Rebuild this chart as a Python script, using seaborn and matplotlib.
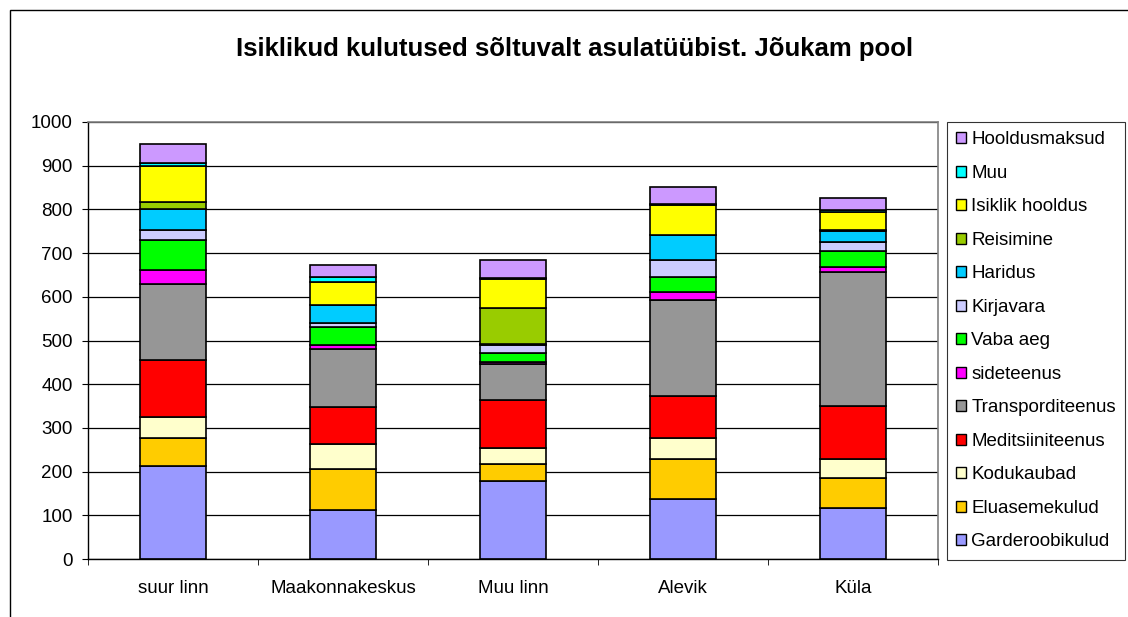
import numpy as np
import pandas as pd
import matplotlib
matplotlib.use("Agg")
import matplotlib.pyplot as plt
import seaborn as sns
from matplotlib.patches import Patch, Rectangle

# Andmed
asulad = ["suur linn", "Maakonnakeskus", "Muu linn", "Alevik", "Küla"]
garderoobikulud = [213, 113, 178, 137, 117]
eluasemekulud = [65, 93, 40, 92, 68]
kodukaubad = [48, 57, 36, 49, 44]
meditsiiniteenus = [130, 84, 109, 96, 122]
transporditeenus = [173, 133, 84, 219, 306]
sideteenus = [32, 10, 3, 19, 11]
vaba_aeg = [68, 42, 21, 33, 36]
kirjavara = [24, 8, 19, 39, 22]
haridus = [49, 41, 2, 58, 24]
reisimine = [16, 0, 83, 0, 3]
isiklik_hooldus = [82, 52, 66, 67, 41]
muu = [7, 12, 3, 4, 5]
hooldusmaksud = [42, 28, 41, 38, 27]

seeriad = [
    ("Garderoobikulud", garderoobikulud, "#9999FF"),
    ("Eluasemekulud", eluasemekulud, "#FFCC00"),
    ("Kodukaubad", kodukaubad, "#FFFFCC"),
    ("Meditsiiniteenus", meditsiiniteenus, "#FF0000"),
    ("Transporditeenus", transporditeenus, "#969696"),
    ("sideteenus", sideteenus, "#FF00FF"),
    ("Vaba aeg", vaba_aeg, "#00FF00"),
    ("Kirjavara", kirjavara, "#CCCCFF"),
    ("Haridus", haridus, "#00CCFF"),
    ("Reisimine", reisimine, "#99CC00"),
    ("Isiklik hooldus", isiklik_hooldus, "#FFFF00"),
    ("Muu", muu, "#00FFFF"),
    ("Hooldusmaksud", hooldusmaksud, "#CC99FF"),
]

sns.set_style("white")
plt.rcParams["font.family"] = ["Liberation Sans", "DejaVu Sans"]
plt.rcParams["text.color"] = "black"
plt.rcParams["xtick.color"] = "black"
plt.rcParams["ytick.color"] = "black"

fs = 13.5

fig = plt.figure(figsize=(11.28, 6.17), dpi=100)
ax = fig.add_axes([88 / 1128, 1 - 559 / 617, (938 - 88) / 1128, (559 - 122) / 617])

# ruudustik
ax.set_ylim(0, 1000)
ax.set_yticks(np.arange(0, 1001, 100))
ax.yaxis.grid(True, color="black", linewidth=0.9)
ax.set_axisbelow(True)

alus = np.zeros(len(asulad))
for nimi, vaartused, varv in seeriad:
    sns.barplot(x=asulad, y=vaartused, bottom=alus, color=varv, edgecolor="black",
                linewidth=1.2, width=0.39, saturation=1, ax=ax)
    alus = alus + np.array(vaartused)

ax.set_xlim(-0.5, len(asulad) - 0.5)
ax.set_xticks(np.arange(-0.5, len(asulad), 1), minor=True)
ax.tick_params(axis="x", which="major", length=0, pad=15, labelsize=fs)
ax.tick_params(axis="x", which="minor", length=4, color="black", direction="out", bottom=True)
ax.tick_params(axis="y", length=4, color="black", direction="out", left=True, pad=7, labelsize=fs)
for s in ["top", "right"]:
    ax.spines[s].set_color("#808080")
    ax.spines[s].set_linewidth(1.2)
for s in ["left", "bottom"]:
    ax.spines[s].set_color("black")
    ax.spines[s].set_linewidth(1)
ax.set_xlabel("")
ax.set_ylabel("")

# legend
kaed = [Patch(facecolor=v, edgecolor="black", label=n) for n, _, v in seeriad][::-1]
leg = fig.legend(handles=kaed, loc="upper left", bbox_to_anchor=(947 / 1128, 1 - 122 / 617),
                 frameon=True, fancybox=False, edgecolor="black", fontsize=fs,
                 handlelength=0.5, handleheight=0.5, handletextpad=0.3,
                 labelspacing=0.88, borderpad=0.5, borderaxespad=0)
leg.get_frame().set_linewidth(0.8)

fig.text(575 / 1128, 1 - 49 / 617, "Isiklikud kulutused sõltuvalt asulatüübist. Jõukam pool",
         ha="center", va="center", fontsize=18.5, fontweight="bold")

# välimine raam
fig.patches.append(Rectangle((10 / 1128, -0.01), 1.1, 1 - 10 / 617 + 0.01,
                             transform=fig.transFigure, fill=False,
                             edgecolor="black", linewidth=1))

fig.savefig("out.png", dpi=100)
